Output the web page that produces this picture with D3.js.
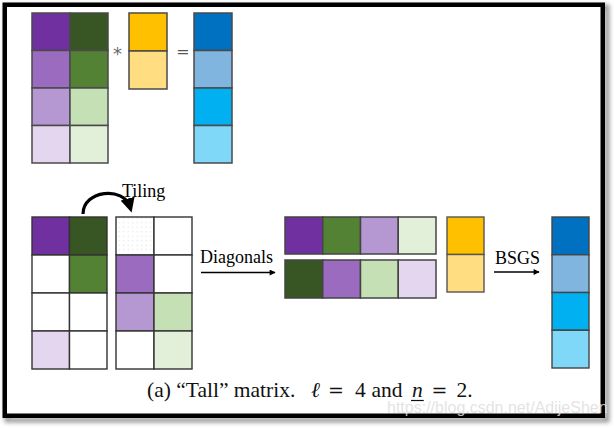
<!DOCTYPE html>
<html>
<head>
<meta charset="utf-8">
<script src="https://cdn.jsdelivr.net/npm/d3@7"></script>
<style>
  html, body { margin: 0; padding: 0; background: #fff; }
  svg { display: block; }
</style>
</head>
<body>
<svg id="chart" width="614" height="428"></svg>
<script>
// ---------- data ----------
const palette = {
  P1: "#7030A0", P2: "#9B6BBF", P3: "#B597D1", P4: "#E4D6EE",
  G1: "#375623", G2: "#548235", G3: "#C5E0B4", G4: "#E2F0D9",
  Y1: "#FFC000", Y2: "#FFDD80",
  B1: "#0070C0", B2: "#80B5E0", B3: "#00B0F0", B4: "#80D8F8",
  W: "#FFFFFF", D: "dots"
};
// "Tall" matrix (4 x 2), vector (2), result (4)
const matrixCells   = [["P1","G1"],["P2","G2"],["P3","G3"],["P4","G4"]];
const vectorCells   = [["Y1"],["Y2"]];
const resultCells   = [["B1"],["B2"],["B3"],["B4"]];
// tiling step: the matrix split into two 4x2 tiles
const tileLeftCells  = [["P1","G1"],["W","G2"],["W","W"],["P4","W"]];
const tileRightCells = [["D","W"],["P2","W"],["P3","G3"],["W","G4"]];
// extracted diagonals (2 x 4)
const diagonalCells = [["P1","G2","P3","G4"],["G1","P2","G3","P4"]];
const labels = { tiling: "Tiling", diagonals: "Diagonals", bsgs: "BSGS", times: "*", equals: "=" };
// caption pieces
const captionParts = [
  { t: "(a) \u201CTall\u201D matrix.", it: false },
  { t: "\u2113", it: true },
  { t: "=", it: false, eq: true },
  { t: "4", it: false },
  { t: "and", it: false },
  { t: "n", it: true, under: true },
  { t: "=", it: false, eq: true },
  { t: "2.", it: false }
];
const captionX = [147, 311, 328, 355, 371.5, 412, 431.5, 456.5];
const watermark = "https://blog.csdn.net/AdijeShen";

// ---------- drawing ----------
const svg = d3.select("#chart");
const defs = svg.append("defs");

const blur = defs.append("filter").attr("id", "shadow").attr("x", "-5%").attr("y", "-5%").attr("width", "110%").attr("height", "110%");
blur.append("feGaussianBlur").attr("stdDeviation", 2);

const pat = defs.append("pattern").attr("id", "dots").attr("patternUnits", "userSpaceOnUse")
  .attr("width", 4.5).attr("height", 4.5);
pat.append("rect").attr("width", 4.5).attr("height", 4.5).attr("fill", "#fff");
pat.append("circle").attr("cx", 2.2).attr("cy", 2.2).attr("r", 0.7).attr("fill", "#e2e2e2");

const marker = defs.append("marker").attr("id", "ah").attr("viewBox", "0 0 10 10")
  .attr("refX", 9).attr("refY", 5).attr("markerWidth", 7).attr("markerHeight", 6)
  .attr("markerUnits", "userSpaceOnUse").attr("orient", "auto");
marker.append("path").attr("d", "M0,0 L10,5 L0,10 Z").attr("fill", "#000");
const marker2 = defs.append("marker").attr("id", "ah2").attr("viewBox", "0 0 10 10")
  .attr("refX", 6).attr("refY", 5).attr("markerWidth", 4.5).attr("markerHeight", 4.5)
  .attr("orient", "auto");
marker2.append("path").attr("d", "M0,0 L10,5 L0,10 Z").attr("fill", "#000");

// frame with drop shadow
svg.append("rect").attr("x", 7).attr("y", 7).attr("width", 600).attr("height", 413)
  .attr("fill", "none").attr("stroke", "#9a9a9a").attr("stroke-width", 5).attr("filter", "url(#shadow)");
svg.append("rect").attr("x", 4.75).attr("y", 4.75).attr("width", 598).attr("height", 411)
  .attr("fill", "#fff").attr("stroke", "#000").attr("stroke-width", 4.5);

function block(cells, x0, x1, y0, y1, opts) {
  const o = Object.assign({ stroke: "#555", sw: 1.4 }, opts || {});
  const nr = cells.length, nc = cells[0].length;
  const x = d3.scaleBand().domain(d3.range(nc)).range([x0, x1]).padding(0);
  const y = d3.scaleBand().domain(d3.range(nr)).range([y0, y1]).padding(0);
  const flat = [];
  cells.forEach((row, r) => row.forEach((c, k) => flat.push({ r, k, c })));
  const g = svg.append("g");
  g.selectAll("rect").data(flat).join("rect")
    .attr("x", d => x(d.k)).attr("y", d => y(d.r))
    .attr("width", x.bandwidth()).attr("height", y.bandwidth())
    .attr("fill", d => d.c === "D" ? "url(#dots)" : palette[d.c])
    .attr("stroke", o.stroke).attr("stroke-width", o.sw);
  return g;
}

// top: A * v = w
block(matrixCells, 32, 108, 13, 163, { stroke: "#4a4a4a", sw: 1.5 });
block(vectorCells, 129, 167, 13, 89, { stroke: "#4a4a4a", sw: 1.5 });
block(resultCells, 194, 232, 13, 163, { stroke: "#4a4a4a", sw: 1.5 });
svg.append("text").attr("x", 117.5).attr("y", 60).attr("text-anchor", "middle")
  .attr("font-family", "DejaVu Sans, sans-serif").attr("font-size", 18).attr("fill", "#6a6a6a").text(labels.times);
svg.append("text").attr("x", 183).attr("y", 57).attr("text-anchor", "middle")
  .attr("font-family", "DejaVu Sans, sans-serif").attr("font-size", 16).attr("fill", "#555").text(labels.equals);

// bottom row
block(tileLeftCells, 32, 107, 217, 369, { stroke: "#333", sw: 1.4 });
block(tileRightCells, 116, 192, 217, 369, { stroke: "#333", sw: 1.4 });
block(diagonalCells.slice(0, 1), 285, 436, 217, 254, { stroke: "#444", sw: 1.5 });
block(diagonalCells.slice(1, 2), 285, 436, 260, 298, { stroke: "#444", sw: 1.5 });
block(vectorCells, 447, 484, 217, 292, { stroke: "#555", sw: 1.4 });
block(resultCells, 552, 589, 217, 368, { stroke: "#444", sw: 1.4 });

const serif = "Liberation Serif, 'Times New Roman', serif";
// tiling arrow
svg.append("path").attr("d", "M83,214 C83,190 124,186 130,207")
  .attr("fill", "none").attr("stroke", "#000").attr("stroke-width", 3.2).attr("marker-end", "url(#ah2)");
svg.append("text").attr("x", 122).attr("y", 197).attr("font-family", serif).attr("font-size", 18).text(labels.tiling);

// Diagonals arrow
svg.append("text").attr("x", 200).attr("y", 263).attr("font-family", serif).attr("font-size", 18).text(labels.diagonals);
svg.append("line").attr("x1", 201).attr("y1", 272.5).attr("x2", 275).attr("y2", 272.5)
  .attr("stroke", "#000").attr("stroke-width", 1.6).attr("marker-end", "url(#ah)");

// BSGS arrow
svg.append("text").attr("x", 495).attr("y", 264).attr("font-family", serif).attr("font-size", 18).text(labels.bsgs);
svg.append("line").attr("x1", 494).attr("y1", 272).attr("x2", 539).attr("y2", 272)
  .attr("stroke", "#000").attr("stroke-width", 1.6).attr("marker-end", "url(#ah)");

// caption
const cap = svg.append("text").attr("y", 397).attr("font-family", serif).attr("font-size", 21.5).attr("fill", "#111");
captionParts.forEach((p, i) => {
  const ts = cap.append("tspan").attr("x", captionX[i]).text(p.t);
  if (p.it) ts.attr("font-style", "italic");
  if (p.eq) ts.attr("font-family", "DejaVu Serif, serif").attr("font-size", 19);
});
captionParts.forEach((p, i) => {
  if (!p.under) return;
  const ts = cap.selectAll("tspan").nodes()[i];
  const w = ts.getComputedTextLength();
  svg.append("line").attr("x1", captionX[i] - 1).attr("x2", captionX[i] + w + 1)
    .attr("y1", 400.5).attr("y2", 400.5).attr("stroke", "#111").attr("stroke-width", 1.2);
});

// watermark
svg.append("text").attr("x", 387).attr("y", 413).attr("font-family", "Liberation Sans, Arial, sans-serif")
  .attr("font-size", 16).attr("fill", "#dedede").attr("fill-opacity", 0.85).text(watermark);
</script>
</body>
</html>
